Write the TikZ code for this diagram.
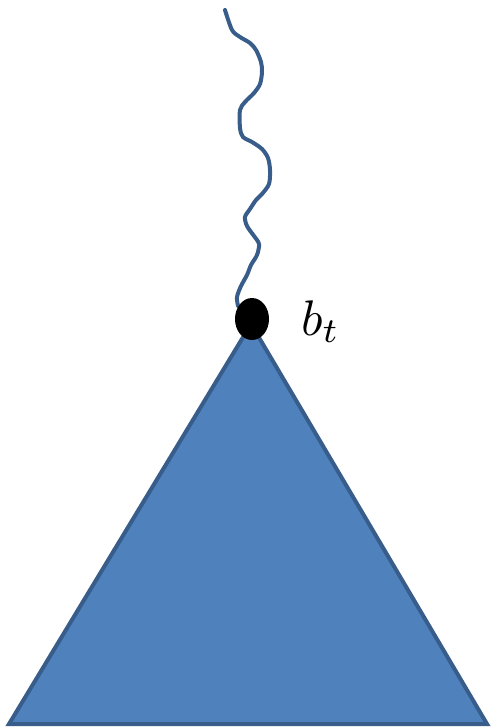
\documentclass[tikz,border=0pt]{standalone}
\usepackage{tikz}
\begin{document}
\begin{tikzpicture}[x=1pt,y=-1pt,
  tri/.style={fill=blue1,draw=blue2,line width=4pt,line join=miter},
  wave/.style={draw=blue2,line width=4pt,line cap=round,line join=round}]
\definecolor{blue1}{HTML}{4F81BD}
\definecolor{blue2}{HTML}{385D8A}
\useasboundingbox (0,0) rectangle (491,728);
\coordinate (apex) at (251,324);
\coordinate (bl) at (9,724);
\coordinate (br) at (487,724);
\draw[tri] (apex) -- (br) -- (bl) -- cycle;
\draw[wave] plot[smooth,tension=0.5] coordinates {(225,10) (232,30) (240,37) (250,43) (256,50) (261,62) (262,72) (260,84) (254,93) (245,102) (240,110) (240,128) (243,137) (252,142) (262,149) (268,158) (270,170) (269,184) (262,194) (256,200) (250,209) (245,217) (247,226) (254,236) (259,244) (257,255) (251,265) (247,275) (241,286) (237,297) (238,306)};
\fill[black] (252,319) ellipse [x radius=17, y radius=21];
\node[anchor=base west,inner sep=0pt,scale=5] (lbl) at (300,335) {$b_t$};
\end{tikzpicture}
\end{document}
